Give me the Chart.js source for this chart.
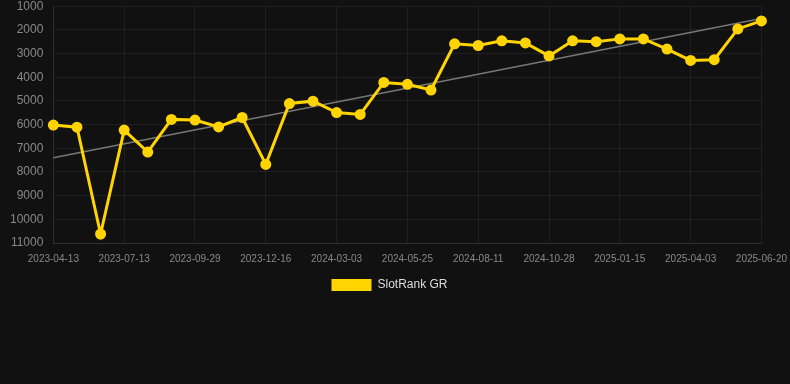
<!DOCTYPE html>
<html>
<head>
<meta charset="utf-8">
<script src="https://cdn.jsdelivr.net/npm/chart.js@4.4.1/dist/chart.umd.min.js"></script>
<style>
html,body{margin:0;padding:0;background:#111111;}
#wrap{width:790px;height:384px;position:relative;overflow:hidden;background:#111111;}
#c{position:absolute;left:0;top:-11px;}
</style>
</head>
<body>
<div id="wrap"><canvas id="c" width="797" height="393"></canvas></div>
<script>
const labels = [
  "2023-04-13","2023-05-13","2023-06-13","2023-07-13","2023-08-08","2023-09-03",
  "2023-09-29","2023-10-25","2023-11-20","2023-12-16","2024-01-11","2024-02-06",
  "2024-03-03","2024-03-31","2024-04-28","2024-05-25","2024-06-20","2024-07-16",
  "2024-08-11","2024-09-06","2024-10-02","2024-10-28","2024-11-23","2024-12-20",
  "2025-01-15","2025-02-10","2025-03-08","2025-04-03","2025-04-29","2025-05-25",
  "2025-06-20"
];
const rankValues = [
  6020, 6110, 10620, 6230, 7160, 5780, 5810, 6100, 5700, 7680, 5110,
  5010, 5490, 5570, 4220, 4300, 4540, 2590, 2660, 2460, 2550, 3100,
  2460, 2500, 2380, 2380, 2810, 3290, 3260, 1960, 1620
];
const trendValues = [7400].concat(new Array(29).fill(null), [1520]);
const yTicks = [1000,2000,3000,4000,5000,6000,7000,8000,9000,10000,11000];

Chart.defaults.font.family = "'Liberation Sans', Arial, sans-serif";

const legendShift = {
  id: 'legendShift',
  afterLayout(chart) {
    const lg = chart.legend;
    if (lg) { lg.left -= 9; lg.right -= 9; }
  }
};

new Chart(document.getElementById('c'), {
  type: 'line',
  plugins: [legendShift],
  data: {
    labels: labels,
    datasets: [
      {
        label: 'SlotRank GR',
        data: rankValues,
        borderColor: '#FFD400',
        backgroundColor: '#FFD400',
        borderWidth: 3,
        pointRadius: 4,
        pointHoverRadius: 4,
        pointBackgroundColor: '#FFD400',
        pointBorderColor: '#FFD400',
        tension: 0,
        order: 1
      },
      {
        label: 'trend',
        data: trendValues,
        spanGaps: true,
        borderColor: '#777777',
        borderWidth: 1.5,
        pointRadius: 0,
        fill: false,
        order: 2
      }
    ]
  },
  options: {
    responsive: false,
    animation: false,
    layout: { padding: { top: 0, bottom: 81, left: 0, right: 0 } },
    plugins: {
      legend: {
        position: 'bottom',
        labels: {
          color: '#dddddd',
          font: { size: 12 },
          boxWidth: 40,
          boxHeight: 12,
          padding: 4,
          generateLabels: (chart) =>
            Chart.defaults.plugins.legend.labels.generateLabels(chart)
              .filter(it => it.text !== 'trend')
              .map(it => Object.assign(it, { lineWidth: 0 }))
        }
      },
      tooltip: { enabled: false }
    },
    scales: {
      x: {
        offset: false,
        grid: {
          color: (ctx) => (ctx.index % 3 === 0 ? 'rgba(255,255,255,0.06)' : 'rgba(0,0,0,0)'),
          drawTicks: false
        },
        border: { color: 'rgba(255,255,255,0.08)' },
        ticks: {
          color: '#888888',
          font: { size: 10 },
          autoSkip: false,
          maxRotation: 0,
          padding: 10,
          callback: function(v, i) { return i % 3 === 0 ? labels[i] : ''; }
        }
      },
      y: {
        reverse: true,
        min: yTicks[0],
        max: yTicks[yTicks.length - 1],
        afterBuildTicks: (axis) => { axis.ticks = yTicks.map(v => ({ value: v })); },
        grid: { color: 'rgba(255,255,255,0.06)', drawTicks: false },
        border: { color: 'rgba(255,255,255,0.08)' },
        ticks: {
          color: '#888888',
          font: { size: 12 },
          padding: 10,
          callback: (v) => String(v)
        }
      }
    }
  }
});
</script>
</body>
</html>
